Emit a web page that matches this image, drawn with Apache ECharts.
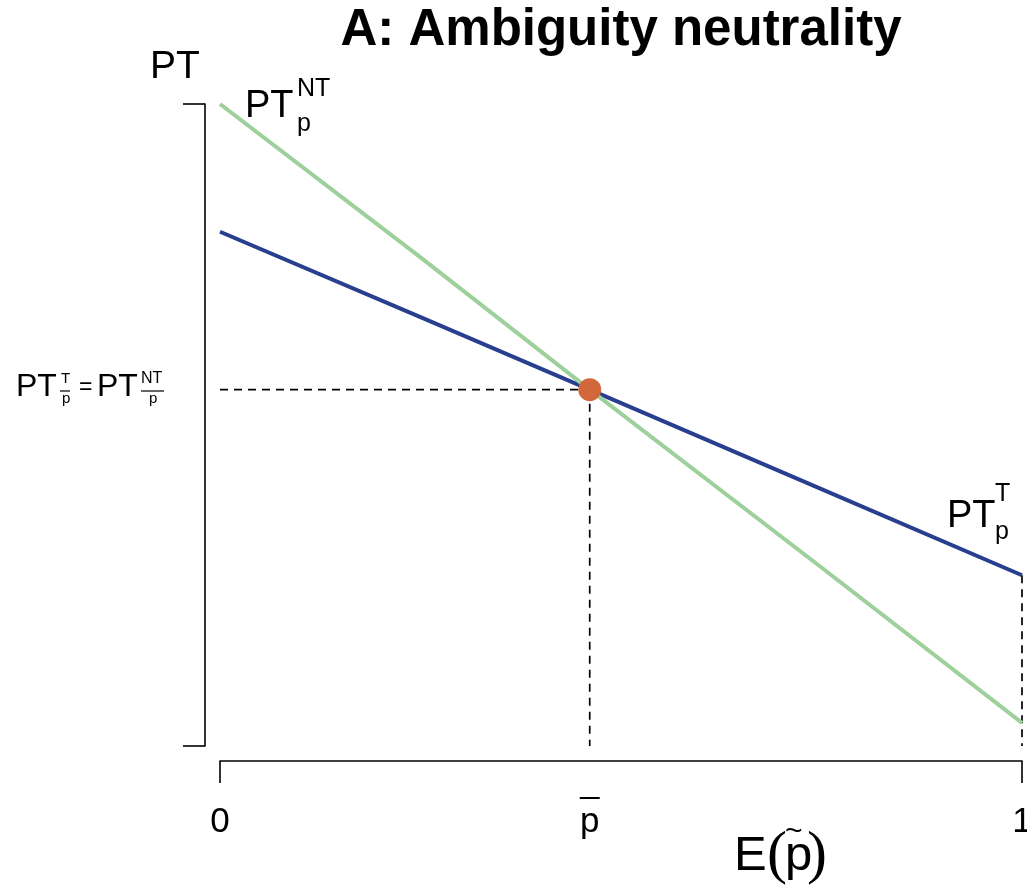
<!DOCTYPE html>
<html>
<head>
<meta charset="utf-8">
<script src="https://cdn.jsdelivr.net/npm/echarts@6/dist/echarts.min.js"></script>
<style>
  html, body { margin: 0; padding: 0; background: #ffffff; }
  #chart { width: 1027px; height: 888px; }
</style>
</head>
<body>
<div id="chart"></div>
<script>
// Expected probability on the horizontal axis
const probs = [0, 0.25, 0.461, 0.75, 1];
// Policy threshold without treatment (green) and with treatment (blue)
const ptNoTreatment = [1.0, 0.761, 0.555, 0.278, 0.036];
const ptTreatment = [0.801, 0.668, 0.555, 0.400, 0.266];
// Crossing point of the two curves
const pBar = 0.461;
const ptAtPBar = 0.555;
// Axis ticks and their labels
const xTickValues = [0, 1];
const xLabelValues = [0, pBar, 1];
const xTickLabels = ['0', 'p', '1'];
const yTickValues = [0, 1];

const SANS = '"Liberation Sans", Arial, sans-serif';
const SERIF = '"Liberation Serif", "Times New Roman", serif';
const GREEN = '#9dd09a';
const BLUE = '#283f8f';

const zip = (xs, ys) => xs.map((x, i) => [x, ys[i]]);

// Text placed by its left edge and alphabetic baseline
function txt(left, baseline, str, size, extra) {
  return {
    type: 'text',
    z: 100,
    style: Object.assign({
      x: left,
      y: baseline - 0.3465 * size,
      text: str,
      font: 'normal ' + size + 'px ' + SANS,
      fill: '#000',
      align: 'left',
      verticalAlign: 'middle'
    }, extra || {})
  };
}
function bar(x1, x2, y, w) {
  return {
    type: 'line', z: 100,
    shape: { x1: x1, y1: y, x2: x2, y2: y },
    style: { stroke: '#000', lineWidth: w || 1.2 }
  };
}

const chart = echarts.init(document.getElementById('chart'), null, { renderer: 'canvas' });

const axisStyle = { color: '#000', width: 1.6 };
const dashStyle = { color: '#000', width: 1.7, type: [8, 6] };
const option = {
  backgroundColor: '#ffffff',
  animation: false,
  grid: { left: 220, right: 5, top: 104, bottom: 142, containLabel: false, outerBoundsMode: 'none' },
  xAxis: {
    type: 'value', min: 0, max: 1, offset: 15,
    splitLine: { show: false },
    axisLine: { show: true, onZero: false, lineStyle: axisStyle },
    axisTick: { show: true, length: 22, customValues: xTickValues, lineStyle: axisStyle },
    axisLabel: {
      show: true, customValues: xLabelValues, margin: 44,
      color: '#000', fontFamily: SANS, fontSize: 35,
      formatter: v => xTickLabels[xLabelValues.indexOf(v)]
    }
  },
  yAxis: {
    type: 'value', min: 0, max: 1, offset: 15,
    splitLine: { show: false },
    axisLine: { show: true, onZero: false, lineStyle: axisStyle },
    axisTick: { show: true, length: 22, customValues: yTickValues, lineStyle: axisStyle },
    axisLabel: { show: false }
  },
  series: [
    {
      name: 'guide-h', type: 'line', silent: true, symbol: 'none', z: 1,
      data: [[0, ptAtPBar], [pBar, ptAtPBar]],
      lineStyle: dashStyle
    },
    {
      name: 'guide-v', type: 'line', silent: true, symbol: 'none', z: 1,
      data: [[pBar, ptAtPBar], [pBar, 0]],
      lineStyle: dashStyle
    },
    {
      name: 'guide-end', type: 'line', silent: true, symbol: 'none', z: 1,
      data: [[1, ptTreatment[ptTreatment.length - 1]], [1, 0]],
      lineStyle: dashStyle
    },
    {
      name: 'PT T', type: 'line', symbol: 'none', z: 2,
      data: zip(probs, ptTreatment),
      lineStyle: { color: BLUE, width: 4 }
    },
    {
      name: 'PT NT', type: 'line', symbol: 'none', z: 3,
      data: zip(probs, ptNoTreatment),
      lineStyle: { color: GREEN, width: 4 }
    },
    {
      name: 'crossing', type: 'scatter', z: 5,
      data: [[pBar, ptAtPBar]],
      symbol: 'circle', symbolSize: 23,
      itemStyle: { color: '#d2673a', opacity: 1 }
    }
  ]
};
chart.setOption(option);

// Labels and math annotations
const px = chart.convertToPixel({ gridIndex: 0 }, [pBar, 0])[0];
const graphics = [
  // title
  txt(621, 49, 'A: Ambiguity neutrality', 51, { align: 'center', font: 'bold 51px ' + SANS }),
  // y axis name
  txt(150, 81, 'PT', 39),
  // PT_p^NT near the green curve
  txt(245, 120, 'PT', 38),
  txt(297, 98, 'NT', 25),
  txt(297, 133, 'p', 25),
  // PT_p^T near the blue curve
  txt(947, 530, 'PT', 38),
  txt(995, 503, 'T', 25),
  txt(995, 541, 'p', 25),
  // crossing value on the y axis
  txt(16, 398, 'PT', 32),
  txt(61, 384, 'T', 15),
  bar(60, 70, 391),
  txt(62, 404, 'p', 15),
  txt(79, 396, '=', 23),
  txt(97, 398, 'PT', 32),
  txt(141, 384, 'NT', 16),
  bar(141, 164, 391),
  txt(149, 404, 'p', 15),
  // bar over the p tick label
  bar(px - 10, px + 10, 798, 2),
  // x axis name E(p~)
  txt(734, 873, 'E', 49),
  txt(767, 877, '(', 60, { font: 'normal 60px ' + SERIF }),
  txt(785, 873, 'p', 49),
  txt(785, 842, '~', 30),
  txt(807, 877, ')', 60, { font: 'normal 60px ' + SERIF })
];
chart.setOption({ graphic: graphics });
</script>
</body>
</html>
